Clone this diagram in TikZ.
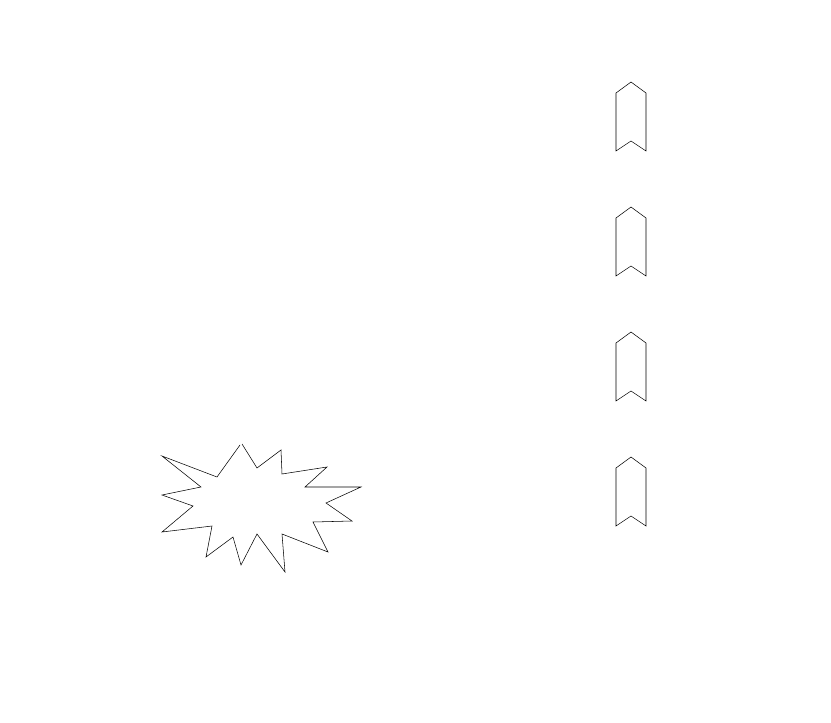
\documentclass[tikz,border=0pt]{standalone}
\begin{document}
\begin{tikzpicture}[x=0.75pt,y=-0.75pt]
	
	\useasboundingbox (0,0) rectangle (831,723);
	
	\draw (631,82) -- (646,93) -- (646,151) -- (631,141) -- (616,151) -- (616,93) -- cycle;
	
	\draw (631,207) -- (646,218) -- (646,276) -- (631,266) -- (616,276) -- (616,218) -- cycle;
	
	\draw (631,332) -- (646,343) -- (646,401) -- (631,391) -- (616,401) -- (616,343) -- cycle;
	
	\draw (631,457) -- (646,468) -- (646,526) -- (631,516) -- (616,526) -- (616,468) -- cycle;
	
	
	\draw (242,444) -- (257,468) -- (281,450) -- (282,474) -- (327,467) -- (305,487) -- (361,487) -- (326,503) -- (352,521) -- (313,522) -- (328,552) -- (282,534) -- (285,572) -- (257,534) -- (241,565) -- (233,537) -- (206,557) -- (212,526) -- (162,532) -- (193,506) -- (162,495) -- (201,487) -- (162,456) -- (217,477) -- (240,445);
	
\end{tikzpicture}
\end{document}
